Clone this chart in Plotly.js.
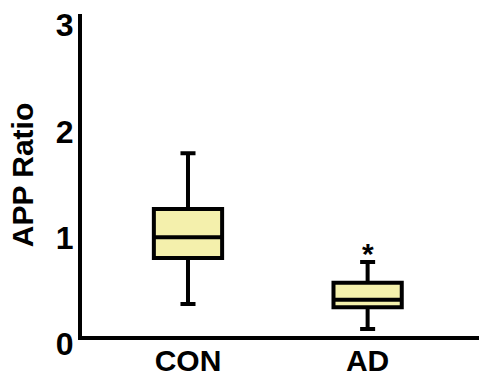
<!DOCTYPE html>
<html>
<head>
<meta charset="utf-8">
<script src="https://cdn.plot.ly/plotly-3.0.1.min.js"></script>
<style>html,body{margin:0;padding:0;background:#fff;}#chart{width:479px;height:379px;}</style>
</head>
<body>
<div id="chart"></div>
<script>
// Data
const groups = ["CON", "AD"];
const lowerFence = [0.30, 0.066];
const q1Values = [0.734, 0.27];
const medians = [0.93, 0.34];
const q3Values = [1.195, 0.50];
const upperFence = [1.72, 0.696];
const yTickVals = [0, 1, 2, 3];
const yTickText = ["0", "1", "2", "3"];
const sigGroup = "AD";
const sigMark = "*";

const fontFamily = "Liberation Sans, Arial, sans-serif";

const trace = {
  type: "box",
  x: groups,
  q1: q1Values,
  median: medians,
  q3: q3Values,
  lowerfence: lowerFence,
  upperfence: upperFence,
  fillcolor: "rgb(244,240,172)",
  line: {color: "#000000", width: 4},
  whiskerwidth: 0.22,
  width: 0.38,
  boxpoints: false,
  hoverinfo: "skip",
  showlegend: false
};

const sigIdx = groups.indexOf(sigGroup);

const layout = {
  width: 479,
  height: 379,
  margin: {l: 82, r: 0, t: 14, b: 43, pad: 0},
  paper_bgcolor: "#ffffff",
  plot_bgcolor: "#ffffff",
  showlegend: false,
  xaxis: {
    type: "category",
    range: [-0.59, 1.62],
    showgrid: false,
    zeroline: false,
    showline: true,
    linecolor: "#000000",
    linewidth: 4,
    ticks: "",
    ticklabelstandoff: -5,
    ticklabeloverflow: "allow",
    tickfont: {family: fontFamily, size: 30, color: "#000000", weight: "bold"}
  },
  yaxis: {
    range: [0, 3.03],
    tickvals: yTickVals,
    ticktext: yTickText,
    showgrid: false,
    zeroline: false,
    showline: true,
    linecolor: "#000000",
    linewidth: 4,
    ticks: "",
    ticklabelshift: 8,
    ticklabelstandoff: -2,
    ticklabeloverflow: "allow",
    tickfont: {family: fontFamily, size: 32, color: "#000000", weight: "bold"},
    title: {
      text: "APP Ratio",
      font: {family: fontFamily, size: 30, color: "#000000", weight: "bold"},
      standoff: 14
    }
  },
  annotations: [{
    x: groups[sigIdx],
    y: upperFence[sigIdx],
    xref: "x",
    yref: "y",
    text: sigMark,
    showarrow: false,
    yanchor: "bottom",
    yshift: -10,
    font: {family: fontFamily, size: 30, color: "#000000", weight: "bold"}
  }]
};

Plotly.newPlot("chart", [trace], layout, {displayModeBar: false, staticPlot: true});
</script>
</body>
</html>
